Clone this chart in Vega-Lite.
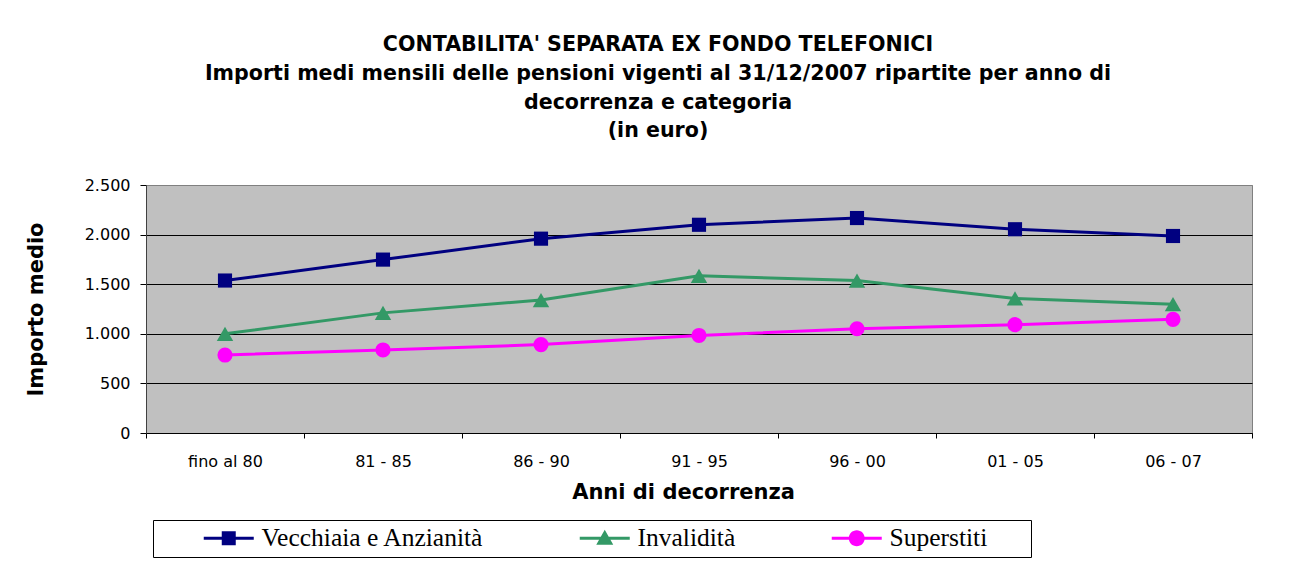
{
  "$schema": "https://vega.github.io/schema/vega-lite/v6.json",
  "width": 1106,
  "height": 248,
  "autosize": {"type": "none"},
  "padding": {"left": 146, "top": 185, "right": 49, "bottom": 134},
  "background": "white",
  "title": {
    "text": ["CONTABILITA' SEPARATA EX FONDO TELEFONICI", "Importi medi mensili delle pensioni vigenti al 31/12/2007 ripartite per anno di", "decorrenza e categoria", "(in euro)"],
    "anchor": "middle",
    "frame": "group",
    "dx": -41,
    "offset": 35,
    "font": "DejaVu Sans",
    "fontSize": 20.6,
    "fontWeight": "bold",
    "color": "black",
    "lineHeight": 28.8
  },
  "data": {
    "values": [
      {"anni": "fino al 80", "cat": "Vecchiaia e Anzianità", "v": 1537},
      {"anni": "81 - 85", "cat": "Vecchiaia e Anzianità", "v": 1748},
      {"anni": "86 - 90", "cat": "Vecchiaia e Anzianità", "v": 1959},
      {"anni": "91 - 95", "cat": "Vecchiaia e Anzianità", "v": 2099},
      {"anni": "96 - 00", "cat": "Vecchiaia e Anzianità", "v": 2167},
      {"anni": "01 - 05", "cat": "Vecchiaia e Anzianità", "v": 2054},
      {"anni": "06 - 07", "cat": "Vecchiaia e Anzianità", "v": 1986},
      {"anni": "fino al 80", "cat": "Invalidità", "v": 1000},
      {"anni": "81 - 85", "cat": "Invalidità", "v": 1211},
      {"anni": "86 - 90", "cat": "Invalidità", "v": 1340},
      {"anni": "91 - 95", "cat": "Invalidità", "v": 1585},
      {"anni": "96 - 00", "cat": "Invalidità", "v": 1537},
      {"anni": "01 - 05", "cat": "Invalidità", "v": 1357},
      {"anni": "06 - 07", "cat": "Invalidità", "v": 1299},
      {"anni": "fino al 80", "cat": "Superstiti", "v": 786},
      {"anni": "81 - 85", "cat": "Superstiti", "v": 837},
      {"anni": "86 - 90", "cat": "Superstiti", "v": 891},
      {"anni": "91 - 95", "cat": "Superstiti", "v": 983},
      {"anni": "96 - 00", "cat": "Superstiti", "v": 1051},
      {"anni": "01 - 05", "cat": "Superstiti", "v": 1092},
      {"anni": "06 - 07", "cat": "Superstiti", "v": 1146}
    ]
  },
  "encoding": {
    "x": {
      "field": "anni",
      "type": "nominal",
      "sort": null,
      "bandPosition": 0.5,
      "scale": {"type": "band", "paddingInner": 0, "paddingOuter": 0},
      "title": "Anni di decorrenza",
      "axis": {
        "labelAngle": 0,
        "tickBand": "extent",
        "tickSize": 5,
        "tickColor": "black",
        "domainColor": "black",
        "labelFont": "DejaVu Sans",
        "labelFontSize": 16,
        "labelColor": "black",
        "labelPadding": 15,
        "titleFont": "DejaVu Sans",
        "titleFontSize": 21,
        "titleFontWeight": "bold",
        "titleColor": "black",
        "titlePadding": 12,
        "titleX": 537
      }
    },
    "y": {
      "field": "v",
      "type": "quantitative",
      "scale": {"domain": [0, 2500], "nice": false},
      "title": "Importo medio",
      "axis": {
        "values": [0, 500, 1000, 1500, 2000, 2500],
        "labelExpr": "replace(format(datum.value, ','), ',', '.')",
        "grid": true,
        "gridColor": {"condition": {"test": "datum.value === 2500", "value": "#808080"}, "value": "black"},
        "gridOpacity": 1,
        "tickSize": 6,
        "tickColor": "black",
        "domainColor": "#404040",
        "labelFont": "DejaVu Sans",
        "labelFontSize": 16,
        "labelColor": "black",
        "labelPadding": 10,
        "titleFont": "DejaVu Sans",
        "titleFontSize": 21,
        "titleFontWeight": "bold",
        "titleColor": "black",
        "titlePadding": 38
      }
    },
    "color": {
      "field": "cat",
      "type": "nominal",
      "sort": null,
      "scale": {
        "domain": ["Vecchiaia e Anzianità", "Invalidità", "Superstiti"],
        "range": ["#000080", "#339966", "#FF00FF"]
      },
      "legend": {
        "orient": "none",
        "legendX": 7,
        "legendY": 335,
        "direction": "horizontal",
        "title": "\u00a0",
        "titleOrient": "left",
        "titleFontSize": 4,
        "titlePadding": 58,
        "padding": 5,
        "strokeColor": "black",
        "fillColor": "white",
        "columnPadding": 95,
        "symbolSize": 400,
        "labelOffset": 20,
        "labelFont": "Liberation Serif",
        "labelFontSize": 25.5,
        "labelColor": "black",
        "labelLimit": 500,
        "encode": {
          "symbols": {
            "update": {
              "shape": {"signal": "datum.value === 'Vecchiaia e Anzianità' ? 'M-2.5,-0.15H2.5V0.15H-2.5Z M-0.7,-0.7H0.7V0.7H-0.7Z' : datum.value === 'Invalidità' ? 'M-2.5,-0.15H2.5V0.15H-2.5Z M0,-0.85L0.85,0.65H-0.85Z' : 'M-2.5,-0.15H2.5V0.15H-2.5Z M-0.8,0A0.8,0.8,0,1,1,0.8,0A0.8,0.8,0,1,1,-0.8,0Z'"},
              "fill": {"scale": "color", "field": "value"},
              "fillOpacity": {"value": 1},
              "stroke": {"value": "transparent"},
              "strokeWidth": {"value": 0}
            }
          },
          "labels": {
            "update": {
              "text": {"signal": "datum.label === 'Superstiti' ? 'Superstiti\u2800\u2800' : datum.label"}
            }
          }
        }
      }
    }
  },
  "layer": [
    {
      "mark": {"type": "line", "strokeWidth": 3}
    },
    {
      "mark": {"type": "point", "filled": true, "opacity": 1},
      "encoding": {
        "shape": {
          "condition": [
            {"test": "datum.cat === 'Vecchiaia e Anzianità'", "value": "square"},
            {"test": "datum.cat === 'Invalidità'", "value": "triangle-up"}
          ],
          "value": "circle"
        },
        "size": {
          "condition": [
            {"test": "datum.cat === 'Vecchiaia e Anzianità'", "value": 200},
            {"test": "datum.cat === 'Invalidità'", "value": 270}
          ],
          "value": 230
        }
      }
    }
  ],
  "config": {
    "view": {"fill": "#C0C0C0", "stroke": "#808080", "strokeWidth": 1}
  }
}
